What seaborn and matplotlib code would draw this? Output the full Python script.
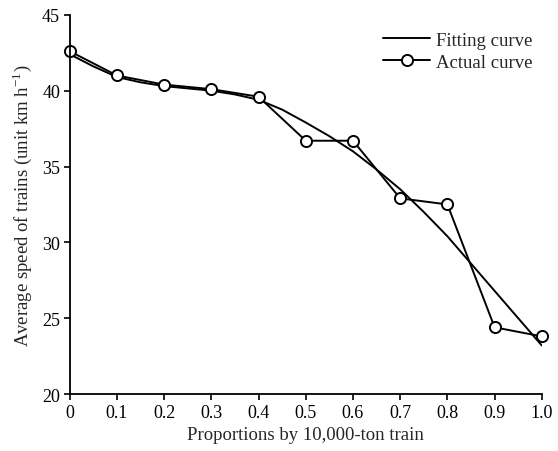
import matplotlib
matplotlib.use("Agg")
import matplotlib.pyplot as plt
import seaborn as sns
import pandas as pd

# valores
proporcao = [0.0, 0.1, 0.2, 0.3, 0.4, 0.5, 0.6, 0.7, 0.8, 0.9, 1.0]
velocidade_real = [42.6, 41.0, 40.4, 40.1, 39.6, 36.7, 36.7, 32.9, 32.5, 24.4, 23.8]

proporcao_ajuste = [0.0, 0.05, 0.1, 0.15, 0.2, 0.25, 0.3, 0.35, 0.4, 0.45, 0.5,
                    0.55, 0.6, 0.65, 0.7, 0.75, 0.8, 0.85, 0.9, 0.95, 1.0]
velocidade_ajuste = [42.4, 41.6, 40.9, 40.55, 40.3, 40.15, 40.0, 39.75, 39.4, 38.75, 37.9,
                     37.0, 36.0, 34.8, 33.5, 32.0, 30.4, 28.6, 26.8, 25.0, 23.2]

sns.set_style("ticks")
plt.rcParams['font.family'] = ['Liberation Serif', 'DejaVu Serif']
plt.rcParams['mathtext.fontset'] = 'custom'
plt.rcParams['mathtext.rm'] = 'Liberation Serif'

df_real = pd.DataFrame({'x': proporcao, 'y': velocidade_real})
df_ajuste = pd.DataFrame({'x': proporcao_ajuste, 'y': velocidade_ajuste})

fig = plt.figure(figsize=(5.58, 4.52), dpi=100)
ax = fig.add_axes([0.125, 0.126, 0.846, 0.839])

sns.lineplot(data=df_ajuste, x='x', y='y', ax=ax, color='black', linewidth=1.4,
             label='Fitting curve')
sns.lineplot(data=df_real, x='x', y='y', ax=ax, color='black', linewidth=1.4,
             marker='o', markersize=8, markerfacecolor='white', markeredgecolor='black',
             markeredgewidth=1.4, label='Actual curve', clip_on=False)

ax.set_xlim(0, 1.0)
ax.set_ylim(20, 45)
ax.set_xticks(proporcao)
ax.set_xticklabels(['0', '0.1', '0.2', '0.3', '0.4', '0.5', '0.6', '0.7', '0.8', '0.9', '1.0'])
ax.set_yticks([20, 25, 30, 35, 40, 45])
ax.tick_params(direction='out', length=4, width=1.2, labelsize=13, colors='black', pad=3)
for s in ['left', 'bottom']:
    ax.spines[s].set_linewidth(1.3)
    ax.spines[s].set_color('black')
sns.despine(ax=ax)

ax.set_xlabel('Proportions by 10,000-ton train', fontsize=13.5, labelpad=4)
ax.set_ylabel('Average speed of trains (unit km h$^{\\mathrm{-1}}$)', fontsize=13.5, labelpad=6)

ax.legend(loc='upper right', frameon=False, fontsize=13.5, handlelength=2.5,
          borderaxespad=0.1, labelspacing=0.25, handletextpad=0.3,
          bbox_to_anchor=(1.0, 0.98))

plt.savefig("out.png", dpi=100)
